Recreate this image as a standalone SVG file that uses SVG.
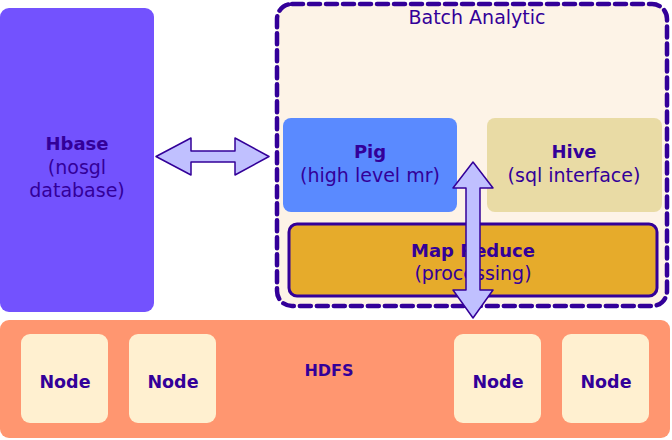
<svg xmlns="http://www.w3.org/2000/svg" width="672" height="440" viewBox="0 0 672 440">
<style>
text{font-family:"DejaVu Sans","Liberation Sans",sans-serif;fill:#330099;text-anchor:middle;font-size:19px}
.b{font-weight:bold;font-size:18px}
.n{font-weight:bold;font-size:17.5px}
.node{fill:#fff0d0}
.arrow{fill:#c0c0ff;stroke:#330099;stroke-width:1.5;stroke-linejoin:round}
</style>
<rect width="672" height="440" fill="#ffffff"/>
<g id="hbase">
<rect x="0" y="8" width="154" height="304" rx="9" fill="#7352fe"/>
<text x="77" y="150" class="b">Hbase</text>
<text x="77" y="174">(nosgl</text>
<text x="77" y="197">database)</text>
</g>
<g id="batch">
<rect x="277" y="4" width="390" height="302" rx="15" fill="#fdf3e7" stroke="#330099" stroke-width="4.5" stroke-dasharray="11 6" stroke-linecap="round"/>
<text x="477" y="24">Batch Analytic</text>
</g>
<g id="pig">
<rect x="283" y="118" width="174" height="94" rx="8" fill="#5a8aff"/>
<text x="370" y="158" class="b">Pig</text>
<text x="370" y="182">(high level mr)</text>
</g>
<g id="hive">
<rect x="487" y="118" width="175" height="94" rx="8" fill="#e9dba5"/>
<text x="574" y="158" class="b">Hive</text>
<text x="574" y="182">(sql interface)</text>
</g>
<g id="mapreduce">
<rect x="289" y="224" width="368" height="72" rx="8" fill="#e6ab2b" stroke="#330099" stroke-width="3"/>
<text x="473" y="257" class="b">Map Reduce</text>
<text x="473" y="280">(processing)</text>
</g>
<g id="hdfs">
<rect x="0" y="320" width="670" height="118" rx="9" fill="#ff9670"/>
<text x="329" y="376" class="b" style="font-size:16px">HDFS</text>
</g>
<g id="node1"><rect class="node" x="21" y="334" width="87" height="89" rx="9"/><text x="65" y="388" class="n">Node</text></g>
<g id="node2"><rect class="node" x="129" y="334" width="87" height="89" rx="9"/><text x="173" y="388" class="n">Node</text></g>
<g id="node3"><rect class="node" x="454" y="334" width="87" height="89" rx="9"/><text x="498" y="388" class="n">Node</text></g>
<g id="node4"><rect class="node" x="562" y="334" width="87" height="89" rx="9"/><text x="606" y="388" class="n">Node</text></g>
<g id="connectors">
<path class="arrow" d="M156 156.5 L191 138 L191 151 L235 151 L235 138 L269 156.5 L235 175 L235 162 L191 162 L191 175 Z"/>
<path class="arrow" d="M473 162 L493 188 L480 188 L480 290 L493 290 L473 318 L453 290 L466 290 L466 188 L453 188 Z"/>
</g>
</svg>
